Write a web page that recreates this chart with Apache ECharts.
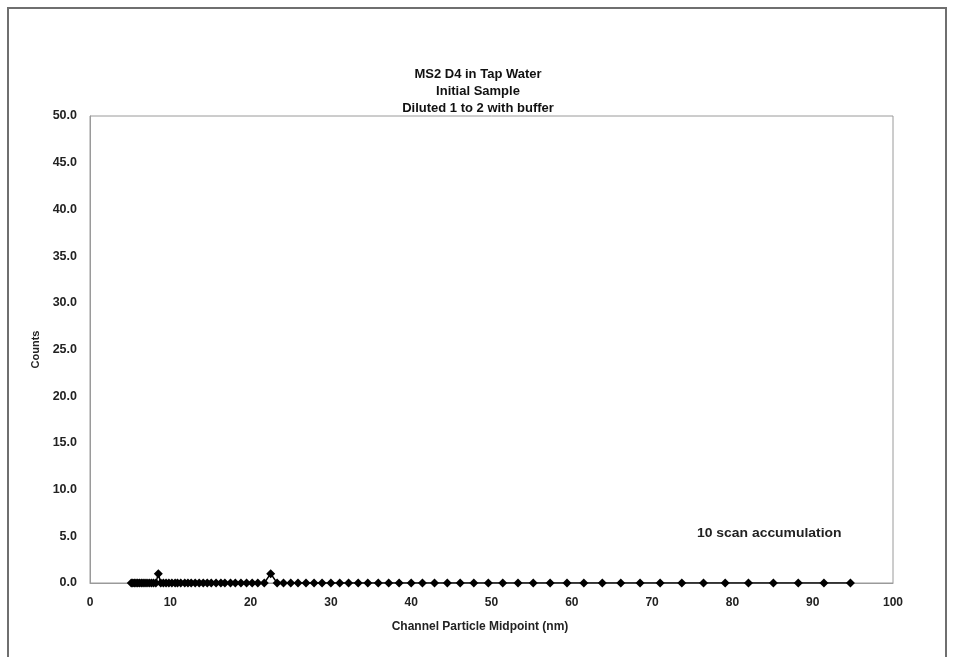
<!DOCTYPE html>
<html>
<head>
<meta charset="utf-8">
<script src="https://cdn.jsdelivr.net/npm/echarts@6/dist/echarts.min.js"></script>
<style>
  html, body { margin: 0; padding: 0; background: #fff; }
  #chart { width: 956px; height: 657px; }
</style>
</head>
<body>
<div id="chart"></div>
<script>
// Title lines
const titleLines = ['MS2 D4 in Tap Water', 'Initial Sample', 'Diluted 1 to 2 with buffer'];
const xAxisName = 'Channel Particle Midpoint (nm)';
const yAxisName = 'Counts';
const noteText = '10 scan accumulation';

// Channel midpoint diameters (nm)
const channelMidpoints = [
  5.14, 5.33, 5.52, 5.73, 5.94, 6.15, 6.38, 6.61, 6.85, 7.10,
  7.37, 7.64, 7.91, 8.20, 8.51, 8.81, 9.14, 9.47, 9.82,
  10.2, 10.6, 10.9, 11.3, 11.8, 12.2, 12.6, 13.1, 13.6, 14.1,
  14.6, 15.1, 15.7, 16.3, 16.8, 17.5, 18.1, 18.8, 19.5, 20.2,
  20.9, 21.7, 22.5, 23.3, 24.1, 25.0, 25.9, 26.9, 27.9, 28.9,
  30.0, 31.1, 32.2, 33.4, 34.6, 35.9, 37.2, 38.5, 40.0, 41.4,
  42.9, 44.5, 46.1, 47.8, 49.6, 51.4, 53.3, 55.2, 57.3, 59.4,
  61.5, 63.8, 66.1, 68.5, 71.0, 73.7, 76.4, 79.1, 82.0, 85.1,
  88.2, 91.4, 94.7
];

// Accumulated counts per channel
const counts = [
  0, 0, 0, 0, 0, 0, 0, 0, 0, 0,
  0, 0, 0, 0, 1, 0, 0, 0, 0,
  0, 0, 0, 0, 0, 0, 0, 0, 0, 0,
  0, 0, 0, 0, 0, 0, 0, 0, 0, 0,
  0, 0, 1, 0, 0, 0, 0, 0, 0, 0,
  0, 0, 0, 0, 0, 0, 0, 0, 0, 0,
  0, 0, 0, 0, 0, 0, 0, 0, 0, 0,
  0, 0, 0, 0, 0, 0, 0, 0, 0, 0,
  0, 0, 0
];

const seriesData = channelMidpoints.map((d, i) => [d, counts[i]]);

const chart = echarts.init(document.getElementById('chart'), null, { renderer: 'canvas' });

const labelFont = {
  color: '#222',
  fontFamily: 'Liberation Sans, Arial, sans-serif',
  fontWeight: 'bold',
  fontSize: 12
};

chart.setOption({
  animation: false,
  backgroundColor: '#fff',
  title: {
    text: titleLines.join('\n'),
    left: 'center',
    top: 61,
    textStyle: {
      color: '#111',
      fontFamily: 'Liberation Sans, Arial, sans-serif',
      fontWeight: 'bold',
      fontSize: 13,
      lineHeight: 17
    }
  },
  grid: { left: 90, right: 63, top: 116, bottom: 74, show: true, borderColor: '#9a9a9a', borderWidth: 1 },
  xAxis: {
    type: 'value',
    min: 0, max: 100, interval: 10,
    axisLine: { show: true, lineStyle: { color: '#9a9a9a', width: 1 } },
    axisTick: { show: false },
    splitLine: { show: false },
    axisLabel: Object.assign({}, labelFont, { margin: 14 })
  },
  yAxis: {
    type: 'value',
    min: 0, max: 50, interval: 5,
    name: yAxisName,
    nameLocation: 'middle',
    nameGap: 48,
    nameRotate: 90,
    nameTextStyle: Object.assign({}, labelFont, { fontSize: 11 }),
    axisLine: { show: true, lineStyle: { color: '#9a9a9a', width: 1 } },
    axisTick: { show: false },
    splitLine: { show: false },
    axisLabel: Object.assign({}, labelFont, {
      fontSize: 12.5,
      margin: 13,
      formatter: v => v.toFixed(1)
    })
  },
  graphic: [
    {
      type: 'rect',
      shape: { x: 8, y: 8, width: 938, height: 670 },
      style: { fill: 'none', stroke: '#6f6f6f', lineWidth: 2 },
      silent: true
    },
    {
      type: 'text',
      x: 480,
      y: 627,
      style: {
        text: xAxisName,
        fill: '#222',
        align: 'center',
        verticalAlign: 'middle',
        font: 'bold 12px "Liberation Sans", Arial, sans-serif'
      }
    },
    {
      type: 'text',
      x: 697,
      y: 533,
      scaleX: 1.07,
      style: {
        text: noteText,
        fill: '#222',
        verticalAlign: 'middle',
        font: 'bold 13px "Liberation Sans", Arial, sans-serif'
      }
    }
  ],
  series: [{
    type: 'line',
    data: seriesData,
    symbol: 'diamond',
    symbolSize: 9,
    showAllSymbol: true,
    lineStyle: { color: '#000', width: 1.5 },
    itemStyle: { color: '#000' },
    z: 3
  }]
});
</script>
</body>
</html>
